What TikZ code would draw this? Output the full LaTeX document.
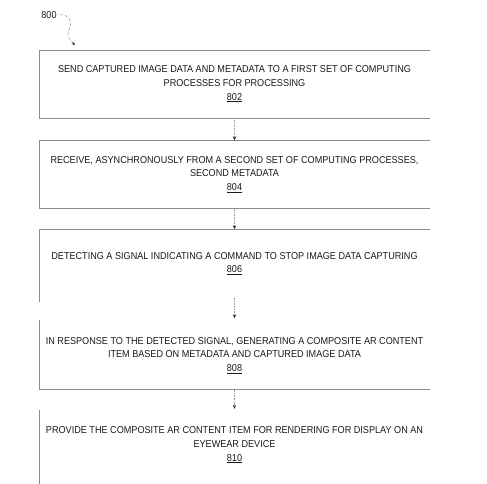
\documentclass[tikz,border=0pt]{standalone}
\usepackage{fontspec}
\setmainfont[FakeStretch=0.91]{Liberation Sans}
\usetikzlibrary{arrows.meta}

\tikzset{
	stepbox/.style={minimum width=391pt, minimum height=68pt, inner sep=0pt, align=center, text=black!90, font=\fontsize{10}{13.6}\selectfont, execute at begin node={\rule{0pt}{11pt}}},
	edge/.style={draw=black!45, line width=0.5pt},
	flow/.style={draw=black!40, line width=0.6pt, densely dotted, -{Stealth[length=4pt, width=3.5pt, black!80]}}
}

\begin{document}
\begin{tikzpicture}[x=1pt, y=-1pt]

	\useasboundingbox (0,0) rectangle (487,484);

	\node[font=\fontsize{10}{12}\selectfont, text=black!90] (n800) at (49,15) {800};
	\coordinate (c800) at (75,45);
	\draw[black!50, line width=0.4pt, densely dashed, -{Stealth[length=3.5pt, width=3pt, black!80]}] (n800.east) .. controls (68,13) and (73,22) .. (70,28) .. controls (66,34) and (68,39) .. (c800);

	\node[stepbox] (s802) at (234.5,84) {SEND CAPTURED IMAGE DATA AND METADATA TO A FIRST SET OF COMPUTING\\ PROCESSES FOR PROCESSING\\ \underline{802}};
	\node[stepbox] (s804) at (234.5,174.5) {RECEIVE, ASYNCHRONOUSLY FROM A SECOND SET OF COMPUTING PROCESSES,\\ SECOND METADATA\\ \underline{804}};
	\node[stepbox] (s806) at (234.5,263.5) {DETECTING A SIGNAL INDICATING A COMMAND TO STOP IMAGE DATA CAPTURING\\ \underline{806}};
	\node[stepbox] (s808) at (234.5,355.5) {IN RESPONSE TO THE DETECTED SIGNAL, GENERATING A COMPOSITE AR CONTENT\\ ITEM BASED ON METADATA AND CAPTURED IMAGE DATA\\ \underline{808}};
	\node[stepbox] (s810) at (234.5,445) {PROVIDE THE COMPOSITE AR CONTENT ITEM FOR RENDERING FOR DISPLAY ON AN\\ EYEWEAR DEVICE\\ \underline{810}};

	\draw[edge] (s802.north east) -- (s802.north west) -- (s802.south west) -- (s802.south east);
	\draw[edge] (s804.north east) -- (s804.north west) -- (s804.south west) -- (s804.south east);
	\draw[edge] (s806.north east) -- (s806.north west) -- ([yshift=-4pt]s806.south west);
	\draw[edge] ([yshift=1.5pt]s808.north west) -- (s808.south west) -- (s808.south east);
	\draw[edge] ([yshift=1pt]s810.north west) -- ([yshift=-8pt]s810.south west);

	\draw[flow] (s802.south) -- (s804.north);
	\draw[flow] (s804.south) -- (s806.north);
	\draw[flow, shorten >=3pt] (s806.south) -- (s808.north);
	\draw[flow, shorten >=2pt] (s808.south) -- (s810.north);

\end{tikzpicture}
\end{document}
